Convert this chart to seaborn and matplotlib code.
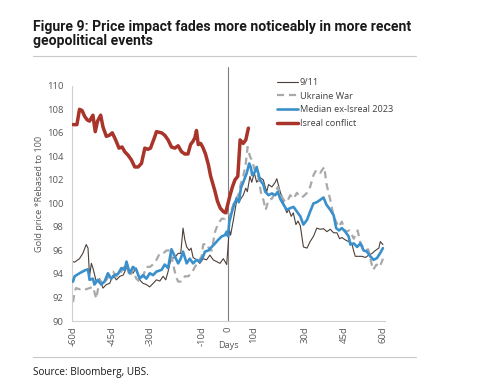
import matplotlib
matplotlib.use('Agg')
import matplotlib.pyplot as plt
from matplotlib.lines import Line2D
import seaborn as sns

# ---- data (days from event, gold price rebased to 100) ----
days_911 = [-60, -59.4, -57.5, -56.2, -54.9, -54.2, -53.6, -52.9, -52.3, -51, -49.7, -48.4, -47.1,
            -45.8, -44.5, -43.2, -41.9, -40.6, -39.3, -38.1, -36.8, -35.5, -34.2, -32.9, -31.6,
            -30.3, -29, -27.7, -26.4, -25.1, -24.1, -23.2, -22.5, -21.9, -20.6, -19.3, -18.3,
            -17.4, -16.7, -16, -15, -14.3, -13.5, -12.2, -10.9, -9.6, -8.3, -7, -5.7, -4.4, -3.1,
            -1.8, -0.5, 0.5, 1.0, 1.6, 2.1, 3.4, 4.2, 5.0, 5.9, 6.9, 7.5, 8.5, 9.2, 10.2, 11.1,
            12.4, 13.7, 14.4, 15.0, 15.7, 17, 18.3, 18.9, 20.2, 21.1, 21.9, 22.8, 23.5, 24.5,
            25.3, 26.3, 27.1, 28, 28.6, 29.2, 30.6, 31.8, 33.1, 34.4, 35.7, 37, 38.3, 39.6, 40.9,
            42.2, 43.2, 44.1, 45.4, 46.7, 48, 48.6, 49.3, 50.6, 51.9, 53.2, 54.5, 55.8, 57.1,
            58.4, 59, 60]
vals_911 = [95.05, 95.0, 95.3, 95.75, 96.5, 96.2, 93.8, 94.9, 94.5, 93.35, 93.6, 92.8, 93.1,
            93.2, 93.9, 93.5, 93.8, 93.9, 94.5, 94.35, 94.06, 94.5, 93.5, 93.2, 93.1,
            92.9, 93.2, 93.5, 93.4, 93.8, 93.5, 94.2, 94.9, 95.3, 95.4, 95.75, 95.75,
            97.9, 96.9, 96.3, 96.0, 96.2, 95.4, 95.2, 94.9, 95.3, 95.2, 95.6, 95.2, 95.05, 94.9,
            95.3, 94.8, 97.8, 97.3, 98.0, 98.6, 100.3, 100.1, 100.4, 100.7, 101.3, 101.0, 102.3,
            101.8, 102.6, 101.8, 102.2, 102.0, 101.4, 101.0, 101.6, 101.4, 101.8, 102.1, 101.0,
            100.4, 99.7, 99.2, 99.5, 98.9, 99.2, 98.2, 98.5, 98.1, 97.2, 96.3, 96.2, 96.75, 97.2,
            97.9, 97.8, 97.85, 97.6, 97.8, 97.5, 97.5, 97.0, 97.1, 96.9, 96.75, 96.6, 96.0, 95.5,
            95.5, 95.5, 95.4, 95.6, 95.75, 96.0, 96.2, 96.75, 96.5]

days_ukr = [-60, -59.4, -58.8, -57.5, -56.2, -54.9, -53.6, -52.3, -51, -49.7, -48.4, -47.1,
            -45.8, -44.5, -43.2, -41.9, -40.7, -39.3, -38.1, -36.8, -35.5, -34.2, -32.9, -31.6,
            -30.3, -29, -27.7, -26.4, -25.1, -23.8, -22.5, -21.9, -21.2, -20.2, -19.3, -18,
            -16.7, -15.4, -14.1, -12.8, -11.5, -10.2, -9.6, -8.3, -7, -6.3, -5, -3.8, -2.4, -1.2,
            -0.3, 0.5, 1.4, 2.7, 4, 5, 5.9, 6.9, 7.6, 8.5, 9.4, 10.5, 11.7, 12.8, 13.7, 14.6,
            15.7, 17, 18.3, 19.3, 20.2, 21.5, 22.8, 24.1, 25.4, 26.7, 28, 29.2, 30.6, 31.8, 33.1,
            34.2, 35.7, 37.3, 38.1, 39.6, 40.9, 42.8, 44.1, 45.4, 47.1, 48.7, 50.2, 51.3, 53.2,
            54.3, 55.4, 56.2, 57.5, 58.8, 60]
vals_ukr = [91.6, 92.5, 92.8, 92.7, 92.8, 92.7, 92.8, 92.9, 91.9, 93.5, 93.2, 93.5,
            93.9, 94.2, 93.8, 93.9, 94.5, 94.8, 93.8, 94.35, 93.6, 93.35, 93.8, 94.6,
            94.6, 94.8, 95.2, 95.75, 95.75, 96.0, 96.0, 95.5, 94.8, 93.8, 93.35, 93.35,
            93.8, 93.8, 94.06, 94.6, 95.05, 95.5, 96.5, 96.6, 96.0, 96.0, 97.6, 98.3, 98.7, 98.7,
            99.3, 99.0, 99.45, 100.3, 100.7, 101.7, 102.3, 103.4, 104.8, 104.0, 103.6, 102.7,
            102.3, 100.9, 100.3, 99.45, 100.3, 100.4, 101.0, 101.4, 100.9, 100.3, 100.1, 100.7,
            100.4, 100.9, 100.5, 100.6, 100.9, 101.4, 102.4, 102.85, 102.6, 103.1, 101.7, 100.3,
            98.9, 98.0, 98.45, 97.6, 97.7, 97.0, 97.7, 96.6, 96.0, 96.1, 95.05, 94.35, 94.8,
            94.6, 95.3]

days_med = [-60, -59.4, -57.5, -55.5, -54.2, -53.6, -52.3, -51.7, -50.4, -49.1, -47.8, -46.5,
            -45.2, -43.9, -42.6, -41.3, -40, -39.3, -38.1, -36.8, -35.5, -34.2, -32.9, -31.6,
            -30.3, -29, -27.7, -25.7, -24.5, -23.2, -21.9, -20.6, -19.3, -18.3, -17.4, -16,
            -14.8, -13.5, -12.2, -10.9, -9.6, -8.9, -7.6, -6.3, -5, -3.8, -2.4, -1.2, -0.5, 0,
            0.5, 1.4, 2.5, 3.4, 4.2, 5.0, 6, 7.3, 8.2, 8.8, 9.4, 10.5, 11.1, 12.4, 13.7, 14.4,
            15.7, 17, 18.3, 19.3, 20.2, 21.5, 22.8, 24.1, 25.4, 26.7, 28, 29.2, 30.6, 31.8, 33.1,
            34.4, 35.7, 37, 38.1, 39.6, 40.9, 41.9, 43, 44.1, 45.4, 46.7, 47.4, 48.7, 50, 51.3,
            52.5, 53.8, 55.1, 56.4, 57.7, 59, 60]
vals_med = [93.35, 93.8, 94.06, 94.3, 94.4, 93.5, 93.6, 93.1, 93.5, 93.1, 93.35, 94.06,
            93.6, 93.9, 94.0, 94.5, 94.35, 95.05, 94.06, 94.6, 94.35, 93.6, 93.9, 93.6,
            94.06, 93.9, 94.2, 94.35, 94.8, 94.5, 96.1, 95.5, 94.9, 95.3, 95.9, 94.9,
            95.3, 94.9, 95.2, 95.05, 95.5, 95.9, 96.0, 96.3, 96.6, 96.9, 97.2, 97.3, 97.6, 97.2,
            98.4, 99.2, 100.0, 100.4, 100.1, 101.3, 101.85, 102.6, 103.4, 103.1, 102.4, 102.7,
            103.1, 102.0, 101.6, 101.0, 100.7, 100.85, 100.7, 101.0, 100.4, 99.9, 99.45, 99.6,
            99.7, 99.3, 98.9, 98.2, 98.6, 99.3, 100.0, 100.1, 100.3, 100.5, 99.9, 99.45, 99.0,
            97.9, 97.7, 97.9, 97.6, 97.2, 96.5, 96.6, 96.3, 96.6, 96.0, 95.9, 95.5, 95.2, 95.35,
            95.8, 96.2]

days_isr = [-60, -58.5, -57.5, -56.5, -55.5, -54.5, -53.6, -52.3, -51.4, -50.5, -49.3, -48.4,
            -47.1, -45.9, -44.8, -43.5, -42.2, -41, -40, -38.7, -37.4, -36.1, -34.8, -33.5,
            -32.2, -31, -30, -28.3, -27.7, -25.7, -24.5, -23.2, -21.9, -20.6, -19.3, -18, -16.7,
            -15.5, -14.5, -13.5, -12.8, -12.2, -11.5, -10.6, -9.8, -8.7, -7.6, -6.7, -5.9, -5,
            -4.1, -3, -1.8, -0.9, 0, 0.8, 1.7, 2.7, 3.8, 4.7, 5.9, 6.9, 7.9]
vals_isr = [106.7, 106.7, 108.0, 107.9, 107.4, 107.1, 107.0, 107.5, 106.1, 107.0, 107.5, 106.5,
            105.7, 105.8, 106.0, 105.4, 104.7, 104.8, 104.4, 104.1, 103.7, 103.1, 103.1, 103.4,
            104.7, 104.6, 104.7, 105.7, 106.1, 106.0, 105.8, 105.4, 104.8, 104.7, 104.9, 104.4,
            104.2, 104.2, 105.0, 105.3, 105.6, 106.2, 105.0, 105.1, 104.8, 104.2, 103.3, 102.3,
            101.7, 101.0, 100.2, 99.6, 99.3, 99.2, 100.0, 100.7, 101.4, 102.0, 102.3, 105.4,
            105.1, 105.4, 106.4]

xtick_pos = [-60, -45, -30, -10, 0, 10, 30, 45, 60]
xtick_labels = ['-60d', '-45d', '-30d', '-10d', '0', '10d', '30d', '45d', '60d']
ytick_pos = [90, 92, 94, 96, 98, 100, 102, 104, 106, 108, 110]

sns.set_style('white')
plt.rcParams['font.family'] = ['Open Sans', 'DejaVu Sans']

W, H = 492, 389
fig = plt.figure(figsize=(W / 100, H / 100), dpi=100)
ax = fig.add_axes([72 / W, 1 - 321 / H, (385 - 72) / W, (321 - 67) / H])

ax.axvline(0, color='#7f7f7f', lw=0.8, zorder=1)
sns.lineplot(x=days_911, y=vals_911, ax=ax, color='#4d3f38', lw=0.8, label='9/11', zorder=2)
sns.lineplot(x=days_ukr, y=vals_ukr, ax=ax, color='#a9a9a9', lw=1.6, label='Ukraine War',
             dashes=False, linestyle=(0, (3.2, 2.2)), zorder=2)
sns.lineplot(x=days_med, y=vals_med, ax=ax, color='#3a90cc', lw=1.9, label='Median ex-Isreal 2023', zorder=3)
sns.lineplot(x=days_isr, y=vals_isr, ax=ax, color='#a8342a', lw=2.5, label='Isreal conflict', zorder=4)

ax.set_xlim(-60.4, 60.8)
ax.set_ylim(90, 111.6)
ax.set_xticks(xtick_pos)
ax.set_xticklabels(xtick_labels, rotation=90)
ax.set_yticks(ytick_pos)
ax.tick_params(axis='both', length=0, labelsize=6.8, labelcolor='#595959')
ax.tick_params(axis='x', pad=4)
ax.tick_params(axis='y', pad=6)

for s in ['top', 'right']:
    ax.spines[s].set_visible(False)
for s in ['left', 'bottom']:
    ax.spines[s].set_color('#d0d0d0')
    ax.spines[s].set_linewidth(0.8)
ax.spines['left'].set_bounds(90, 110)

ax.set_xlabel('Days', fontsize=6.6, color='#595959')
ax.xaxis.set_label_coords(0.5, -0.078)
ax.set_ylabel('Gold price *Rebased to 100', fontsize=6.6, color='#595959')
ax.yaxis.set_label_coords(-0.09, 0.5)

ax.legend(loc='upper left', bbox_to_anchor=(277 / W, 1 - 78 / H), bbox_transform=fig.transFigure,
          frameon=False, fontsize=6.6, labelcolor='#404040', handlelength=2.3, handletextpad=0.2,
          labelspacing=0.5, borderpad=0, borderaxespad=0)

title_font = ['Roboto', 'DejaVu Sans']
fig.text(33 / W, 1 - 30.5 / H, 'Figure 9: Price impact fades more noticeably in more recent',
         fontsize=10.1, fontweight='bold', color='#1a1a1a', va='baseline', family=title_font)
fig.text(33 / W, 1 - 45.5 / H, 'geopolitical events',
         fontsize=10.1, fontweight='bold', color='#1a1a1a', va='baseline', family=title_font)
fig.add_artist(Line2D([33 / W, 416 / W], [1 - 56 / H, 1 - 56 / H], color='#c8c8c8', lw=0.8))
fig.add_artist(Line2D([33 / W, 416 / W], [1 - 357 / H, 1 - 357 / H], color='#c8c8c8', lw=0.8))
fig.text(33 / W, 1 - 372 / H, 'Source: Bloomberg, UBS.', fontsize=7.2, color='#1a1a1a', va='center')

fig.savefig('out.png', dpi=100)
